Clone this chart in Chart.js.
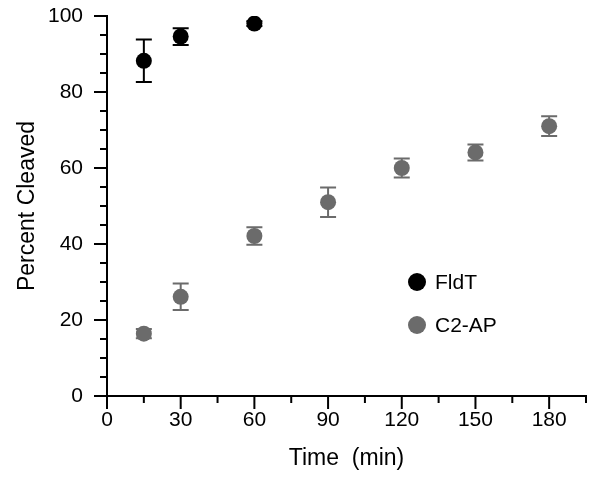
<!DOCTYPE html>
<html>
<head>
<meta charset="utf-8">
<script src="https://cdn.jsdelivr.net/npm/chart.js@4/dist/chart.umd.min.js"></script>
<style>
  html, body { margin: 0; padding: 0; background: #fff; }
  #wrap { position: relative; width: 600px; height: 480px; }
  .leg { position: absolute; height: 24px; font: 21px "Liberation Sans", Arial, sans-serif; color: #000; display: flex; align-items: center; }
  .leg i { display: inline-block; width: 18px; height: 18px; border-radius: 50%; margin-right: 9px; }
</style>
</head>
<body>
<div id="wrap">
  <canvas id="chart" width="600" height="480"></canvas>
  <div class="leg" style="left:408px; top:270px;"><i style="background:#000"></i>FldT</div>
  <div class="leg" style="left:408px; top:313px;"><i style="background:#6b6b6b"></i>C2-AP</div>
</div>
<script>
const fldtTime = [15, 30, 60];
const fldtPct  = [88.2, 94.6, 98.0];
const fldtErr  = [5.6, 2.2, 0.6];

const c2Time = [15, 30, 60, 90, 120, 150, 180];
const c2Pct  = [16.4, 26.1, 42.1, 51.0, 60.0, 64.1, 71.0];
const c2Err  = [1.2, 3.5, 2.3, 3.9, 2.5, 2.1, 2.6];

const FONT = '"Liberation Sans", Arial, sans-serif';

const errorBars = {
    id: 'errorBars',
    beforeDatasetsDraw(chart) {
        const { ctx, scales: { x, y } } = chart;
        ctx.save();
        ctx.lineWidth = 2;
        chart.data.datasets.forEach(ds => {
            ctx.strokeStyle = ds.borderColor;
            ds.data.forEach((p, i) => {
                const px = x.getPixelForValue(p.x);
                const top = y.getPixelForValue(p.y + ds.err[i]);
                const bot = y.getPixelForValue(p.y - ds.err[i]);
                ctx.beginPath();
                ctx.moveTo(px, top); ctx.lineTo(px, bot);
                ctx.moveTo(px - 8, top); ctx.lineTo(px + 8, top);
                ctx.moveTo(px - 8, bot); ctx.lineTo(px + 8, bot);
                ctx.stroke();
            });
        });
        ctx.restore();
    },
};

const axisTicks = {
    id: 'axisTicks',
    afterDraw(chart) {
        const { ctx, scales: { x, y }, chartArea } = chart;
        ctx.save();
        ctx.strokeStyle = '#000';
        ctx.lineWidth = 2;
        ctx.beginPath();
        x.ticks.forEach(t => {
            const px = x.getPixelForValue(t.value);
            const len = t.value % 30 === 0 ? 13 : 7;
            ctx.moveTo(px, chartArea.bottom); ctx.lineTo(px, chartArea.bottom + len);
        });
        y.ticks.forEach(t => {
            const py = y.getPixelForValue(t.value);
            const len = t.value % 20 === 0 ? 13 : 7;
            ctx.moveTo(chartArea.left, py); ctx.lineTo(chartArea.left - len, py);
        });
        ctx.stroke();
        ctx.restore();
    },
};

const toPoints = (xs, ys) => xs.map((v, i) => ({ x: v, y: ys[i] }));

new Chart(document.getElementById('chart'), {
    type: 'scatter',
    data: {
        datasets: [
            {
                label: 'FldT',
                data: toPoints(fldtTime, fldtPct),
                err: fldtErr,
                backgroundColor: '#000',
                borderColor: '#000',
                pointRadius: 8,
                borderWidth: 0,
            },
            {
                label: 'C2-AP',
                data: toPoints(c2Time, c2Pct),
                err: c2Err,
                backgroundColor: '#6b6b6b',
                borderColor: '#6b6b6b',
                pointRadius: 8,
                borderWidth: 0,
            },
        ],
    },
    options: {
        responsive: false,
        animation: false,
        layout: { padding: { top: 16, right: 14, left: 0, bottom: 0 } },
        scales: {
            x: {
                min: 0,
                max: 195,
                afterFit: s => { s.height = 84; s.paddingLeft = 0; s.paddingRight = 0; },
                ticks: {
                    stepSize: 15,
                    autoSkip: false,
                    maxRotation: 0,
                    padding: 12,
                    color: '#000',
                    font: { family: FONT, size: 21 },
                    callback: v => (v % 30 === 0 && v <= 180 ? v : ''),
                },
                grid: { display: false, drawTicks: false },
                border: { display: true, color: '#000', width: 2 },
                title: {
                    display: true,
                    text: 'Time  (min)',
                    color: '#000',
                    font: { family: FONT, size: 23 },
                    padding: { top: 0, bottom: 8 },
                },
            },
            y: {
                min: 0,
                max: 100,
                afterFit: s => { s.width = 107; s.paddingTop = 0; s.paddingBottom = 0; },
                ticks: {
                    stepSize: 5,
                    autoSkip: false,
                    padding: 24,
                    color: '#000',
                    font: { family: FONT, size: 21 },
                    callback: v => (v % 20 === 0 ? v : ''),
                },
                grid: { display: false, drawTicks: false },
                border: { display: true, color: '#000', width: 2 },
                title: {
                    display: true,
                    text: 'Percent Cleaved',
                    color: '#000',
                    font: { family: FONT, size: 23 },
                    padding: { top: 14, bottom: 0 },
                },
            },
        },
        plugins: {
            legend: { display: false },
            tooltip: { enabled: false },
        },
    },
    plugins: [errorBars, axisTicks],
});
</script>
</body>
</html>
